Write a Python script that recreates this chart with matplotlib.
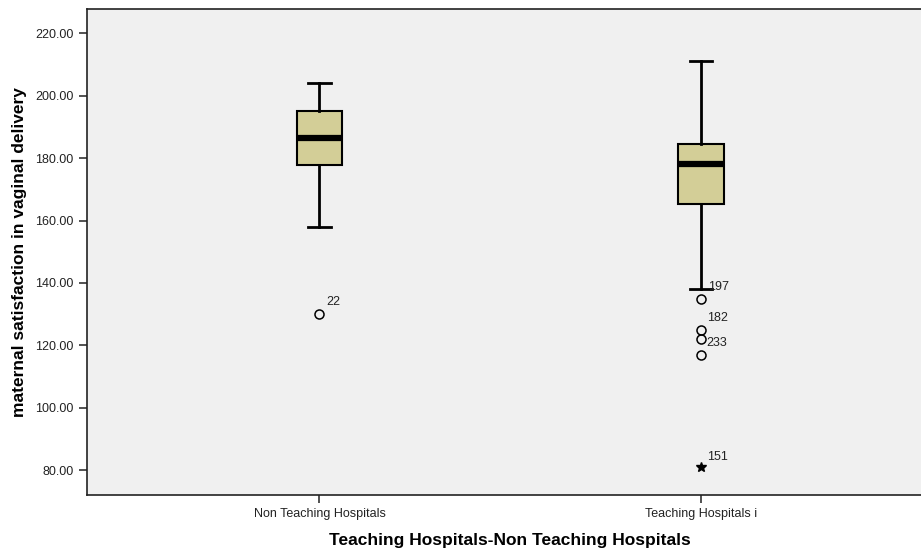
import matplotlib.pyplot as plt

plt.rcParams['font.family'] = ['Liberation Sans', 'DejaVu Sans']

# ---------------------------------------------------
groups = ["Non Teaching Hospitals", "Teaching Hospitals i"]
whislo = [158.0, 138.0]
q1 = [177.9, 165.4]
med = [186.6, 178.0]
q3 = [195.0, 184.5]
whishi = [204.1, 211.1]
outliers = [[130.0], [135.0, 124.9, 121.9, 116.8]]
outlier_ids = [["22"], ["197", "182", "233", ""]]
extremes = [[], [80.9]]
extreme_ids = [[], ["151"]]
yticks = [80, 100, 120, 140, 160, 180, 200, 220]
# ---------------------------------------------------

fig = plt.figure(figsize=(9.21, 5.5), dpi=100)
ax = fig.add_axes([0.0941, 0.1, 0.9196, 0.8845])
ax.set_facecolor('#f0f0f0')

stats = []
for i in range(len(groups)):
    stats.append(dict(med=med[i], q1=q1[i], q3=q3[i],
                      whislo=whislo[i], whishi=whishi[i], fliers=[]))

pos = [1, 2]
ax.bxp(stats, positions=pos, widths=0.12, capwidths=0.058,
       patch_artist=True, showfliers=False,
       boxprops=dict(facecolor='#d3ce97', edgecolor='black', linewidth=1.5),
       medianprops=dict(color='black', linewidth=4.5, solid_capstyle='butt'),
       whiskerprops=dict(color='black', linewidth=2),
       capprops=dict(color='black', linewidth=2))

# label offsets in points (dx, dy), text anchored at left/center
offsets = {"22": (4.6, 8.6), "197": (5, 8.1), "182": (4.3, 8.6),
           "233": (4.3, -2.4), "151": (4.3, 7.4)}
for i, p in enumerate(pos):
    for v, lab in zip(outliers[i], outlier_ids[i]):
        ax.plot(p, v, 'o', mfc='none', mec='black', ms=6.5, mew=1.1)
        if lab:
            ax.annotate(lab, (p, v), xytext=offsets[lab], textcoords='offset points',
                        fontsize=9, color='#222222', va='center')
    for v, lab in zip(extremes[i], extreme_ids[i]):
        ax.plot(p, v, '*', color='black', ms=7)
        ax.annotate(lab, (p, v), xytext=offsets[lab], textcoords='offset points',
                    fontsize=9, color='#222222', va='center')

ax.set_xlim(0.3895, 2.6105)
ax.set_ylim(72.0, 228.0)
ax.set_yticks(yticks)
ax.set_yticklabels([f"{t:.2f}" for t in yticks], fontsize=9, color='#222222')
ax.set_xticks(pos)
ax.set_xticklabels(groups, fontsize=9, color='#222222')
ax.tick_params(axis='both', length=6, width=1.2, color='#333333')
for s in ax.spines.values():
    s.set_linewidth(1.2)
    s.set_color('#222222')

ax.set_ylabel("maternal satisfaction in vaginal delivery", fontsize=12.5, fontweight='bold')
ax.set_xlabel("Teaching Hospitals-Non Teaching Hospitals", fontsize=12.5, fontweight='bold',
              labelpad=9)
ax.yaxis.set_label_coords(-0.07, 0.5)

fig.savefig("out.png", dpi=100)
